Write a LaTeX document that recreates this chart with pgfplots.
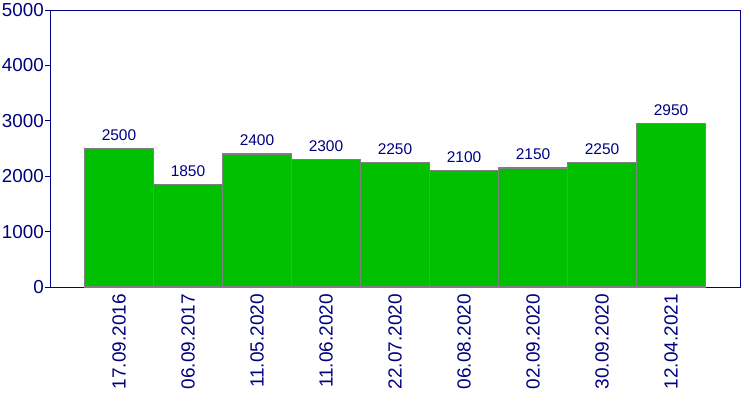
\documentclass[border=0pt]{standalone}
\usepackage{pgfplots}
\pgfplotsset{compat=1.18}
\usepackage{fontspec}
\setmainfont{Liberation Sans}
\definecolor{navy}{RGB}{0,0,128}
\definecolor{bargreen}{RGB}{0,192,0}
\definecolor{edgegray}{RGB}{128,128,128}
\begin{document}
\begin{tikzpicture}[x=1pt,y=1pt]
\path[use as bounding box] (0,0) rectangle (750,400);
\begin{axis}[
  at={(50pt,113pt)}, anchor=south west,
  scale only axis, width=690pt, height=277pt,
  xmin=-1, xmax=9, ymin=0, ymax=5000,
  axis line style={navy, line width=0.9pt},
  xtick={0,1,2,3,4,5,6,7,8},
  xticklabels={17.09.2016,06.09.2017,11.05.2020,11.06.2020,22.07.2020,06.08.2020,02.09.2020,30.09.2020,12.04.2021},
  xtick style={draw=none},
  ytick={0,1000,2000,3000,4000,5000},
  ytick pos=left,
  ytick style={navy, line width=0.9pt},
  tick align=outside,
  major tick length=5pt,
  xticklabel style={yshift=-2pt, rotate=90, anchor=east, font=\fontsize{19}{21}\selectfont, text=navy, inner sep=0pt},
  yticklabel style={font=\fontsize{18.8}{21}\selectfont, text=navy, inner sep=0pt, xshift=-1pt},
  /pgf/number format/assume math mode=true,
  yticklabel={\pgfmathprintnumber[fixed,1000 sep={}]{\tick}},
  ybar, bar width=1,
  nodes near coords,
  nodes near coords style={font=\fontsize{15.5}{17}\selectfont, text=navy, yshift=4pt},
  every node near coord/.append style={/pgf/number format/1000 sep={}},
  clip=false,
]
\addplot[fill=bargreen, draw=edgegray, line width=1.5pt] coordinates {
(0,2500) (1,1850) (2,2400) (3,2300) (4,2250) (5,2100) (6,2150) (7,2250) (8,2950)};
\end{axis}
\end{tikzpicture}
\end{document}
